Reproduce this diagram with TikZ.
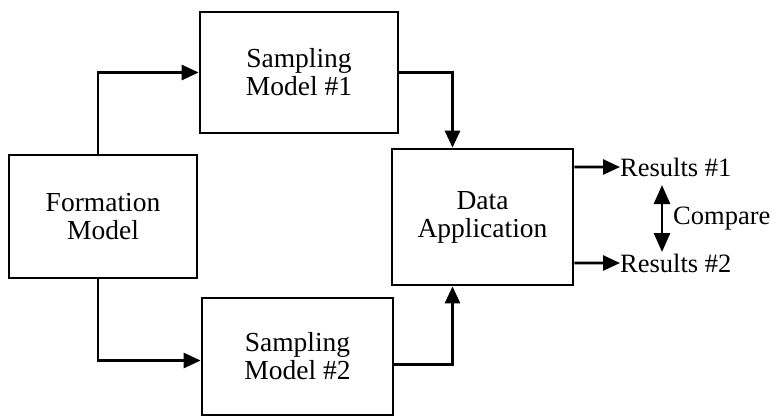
\documentclass[tikz,border=0pt]{standalone}
\usepackage{fontspec}
\setmainfont{Liberation Serif}
\usetikzlibrary{arrows.meta}
\tikzset{
  block/.style={draw, line width=2.7bp, align=center, inner sep=0pt,
    font=\fontsize{27.5bp}{28bp}\selectfont},
  label/.style={inner sep=0pt, font=\fontsize{26.5bp}{28bp}\selectfont},
  conn/.style={line width=2.7bp, -{Triangle[length=17bp,width=15bp]}},
  cmp/.style={line width=2.7bp, {Triangle[length=19bp,width=16bp]}-{Triangle[length=19bp,width=16bp]}}
}
\begin{document}
\begin{tikzpicture}[x=1bp,y=-1bp]
  \useasboundingbox (0,0) rectangle (776,417);
  % model boxes
  \node[block, minimum width=188bp, minimum height=123bp] (form) at (103,216.5) {Formation\\Model};
  \node[block, minimum width=198bp, minimum height=121bp] (s1) at (299,72.5) {Sampling\\Model \#1};
  \node[block, minimum width=191bp, minimum height=117bp] (s2) at (297.5,356.5) {Sampling\\Model \#2};
  \node[block, minimum width=181bp, minimum height=136bp] (data) at (482.5,217) {Data\\Application};
  % results and comparison labels
  \node[label, anchor=west] (r1) at (620,167) {Results \#1};
  \node[label, anchor=west] (r2) at (620,263) {Results \#2};
  \node[label, anchor=west] (cmp) at (673,219) {Compare};
  \coordinate (ctop) at (662,185);
  \coordinate (cbot) at (662,252);
  % connectors
  \draw[conn] ([xshift=-5bp]form.north) |- (s1.west);
  \draw[conn] ([xshift=-5bp]form.south) |- ([yshift=-4bp]s2.west);
  \draw[conn] (s1.east) -| ([xshift=-30bp]data.north);
  \draw[conn] ([yshift=-8bp]s2.east) -| ([xshift=-30bp]data.south);
  \draw[conn] ([yshift=50bp]data.east) -- (r1.west);
  \draw[conn] ([yshift=-46bp]data.east) -- (r2.west);
  \draw[cmp] (ctop) -- (cbot);
\end{tikzpicture}
\end{document}
